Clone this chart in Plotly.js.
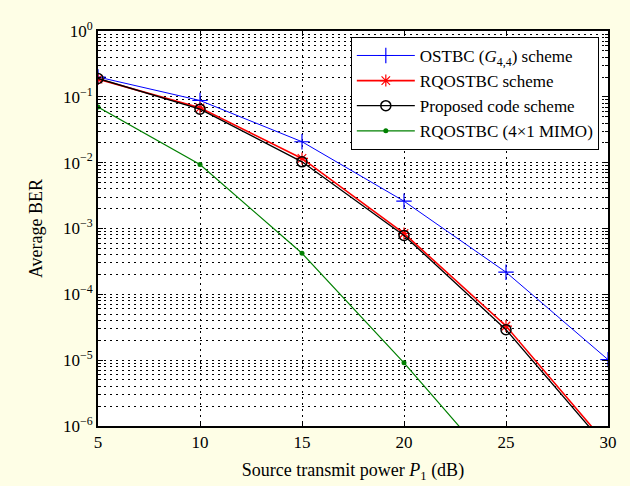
<!DOCTYPE html>
<html>
<head>
<meta charset="utf-8">
<script src="https://cdn.plot.ly/plotly-3.0.1.min.js"></script>
<style>html,body{margin:0;padding:0;background:#fefee6;}</style>
</head>
<body>
<div id="chart" style="width:630px;height:486px;"></div>
<script>
// Data
const power = [5, 10, 15, 20, 25, 30];
const ostbc = [0.20, 0.088, 0.0208, 0.0026, 2.17e-4, 1.02e-5];
const rqostbc = [0.186, 0.068, 0.0116, 8.4e-4, 3.3e-5, 5.0e-7];
const proposed = [0.19, 0.065, 0.0103, 7.85e-4, 2.9e-5, 4.5e-7];
const mimoPower = [5, 10, 15, 20, 25];
const mimo = [0.07, 0.0094, 4.2e-4, 9.1e-6, 1.5e-7];

const seriesNames = ['OSTBC (<i>G</i><sub>4,4</sub>) scheme', 'RQOSTBC scheme', 'Proposed code scheme', 'RQOSTBC (4×1 MIMO)'];
const xTicks = [5, 10, 15, 20, 25, 30];
const yTickVals = [1e-6, 1e-5, 1e-4, 1e-3, 1e-2, 1e-1, 1];
const yTickText = ['10<sup>−6</sup>', '10<sup>−5</sup>', '10<sup>−4</sup>', '10<sup>−3</sup>', '10<sup>−2</sup>', '10<sup>−1</sup>', '10<sup>0</sup>'];

const minorVals = [];
for (let e = -6; e < 0; e++) {
  for (let m = 2; m <= 9; m++) minorVals.push(m * Math.pow(10, e));
}

const font = 'Liberation Serif, Times New Roman, serif';

const traces = [
  {x: power, y: ostbc, name: seriesNames[0], mode: 'lines+markers',
   line: {color: '#0000ff', width: 1},
   marker: {symbol: 'cross-thin-open', size: 11, line: {color: '#0000ff', width: 1.2}}},
  {x: power, y: rqostbc, name: seriesNames[1], mode: 'lines+markers',
   line: {color: '#ff0000', width: 1.6},
   marker: {symbol: 'asterisk-open', size: 10, line: {color: '#ff0000', width: 1.2}}},
  {x: power, y: proposed, name: seriesNames[2], mode: 'lines+markers',
   line: {color: '#000000', width: 1.3},
   marker: {symbol: 'circle-open', size: 10, line: {color: '#000000', width: 1.5}}},
  {x: mimoPower, y: mimo, name: seriesNames[3], mode: 'lines+markers',
   line: {color: '#008000', width: 1.2},
   marker: {symbol: 'circle', size: 5, color: '#008000'}}
];

const layout = {
  width: 630, height: 486,
  paper_bgcolor: '#fefee6',
  plot_bgcolor: '#ffffff',
  margin: {l: 98, r: 22, t: 31, b: 60},
  font: {family: font, size: 17, color: '#000'},
  showlegend: true,
  legend: {
    x: 0.982, xanchor: 'right', y: 0.985, yanchor: 'top',
    bgcolor: '#ffffff', bordercolor: '#000000', borderwidth: 1,
    font: {family: font, size: 17, color: '#000'},
    itemwidth: 58, tracegroupgap: 0
  },
  xaxis: {
    range: [5, 30], tickmode: 'array', tickvals: xTicks,
    ticks: 'inside', ticklen: 5, tickcolor: '#000', mirror: 'ticks',
    showline: true, linecolor: '#000', linewidth: 2,
    showgrid: true, gridcolor: '#000', gridwidth: 1, griddash: '2px,4px',
    zeroline: false,
    tickfont: {family: font, size: 17},
    title: {text: 'Source transmit power <i>P</i><sub>1</sub> (dB)', font: {family: font, size: 18}, standoff: 12}
  },
  yaxis: {
    type: 'log', range: [-6, 0], tickmode: 'array', tickvals: yTickVals, ticktext: yTickText,
    ticks: 'inside', ticklen: 5, tickcolor: '#000', mirror: 'ticks',
    showline: true, linecolor: '#000', linewidth: 2,
    showgrid: true, gridcolor: '#000', gridwidth: 1, griddash: '2px,4px',
    zeroline: false,
    tickfont: {family: font, size: 17},
    minor: {tickmode: 'array', tickvals: minorVals, ticks: 'inside', ticklen: 3, tickcolor: '#000',
            showgrid: true, gridcolor: '#000', gridwidth: 1, griddash: '2px,4px'},
    title: {text: 'Average BER', font: {family: font, size: 18}, standoff: 16}
  }
};

Plotly.newPlot('chart', traces, layout, {displayModeBar: false, staticPlot: true});
</script>
</body>
</html>
